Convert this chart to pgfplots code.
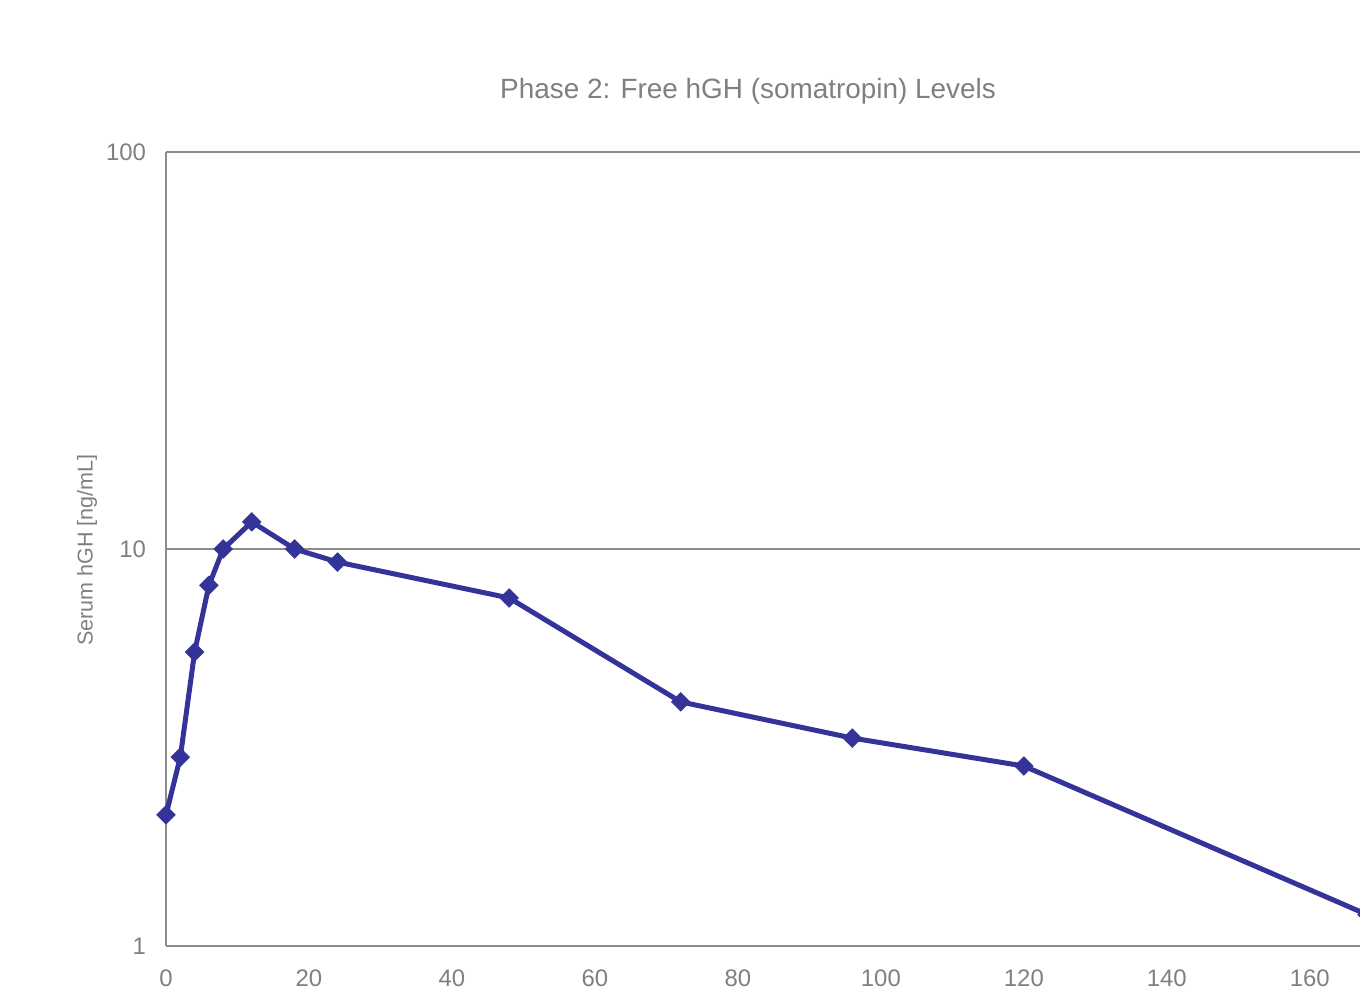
\documentclass[border=0pt]{standalone}
\usepackage{pgfplots}
\pgfplotsset{compat=1.18}
\usepackage{fontspec}
\setmainfont{Liberation Sans}
\definecolor{txtgray}{HTML}{808080}
\definecolor{axgray}{HTML}{8C8C8C}
\definecolor{serblue}{HTML}{333399}
\begin{document}
\begin{tikzpicture}[x=1bp,y=1bp]
\begin{axis}[
  at={(83bp,24.5bp)}, anchor=south west,
  scale only axis, width=600.5bp, height=397bp,
  xmin=0, xmax=168, ymode=log, ymin=1, ymax=100,
  axis x line*=bottom, axis y line*=left,
  axis line style={axgray, line width=0.9bp},
  xtick={0,20,...,160}, ytick={1,10,100}, yticklabels={1,10,100},
  yminorticks=false, major tick length=0pt, minor tick length=0pt,
  ymajorgrids, grid style={axgray, line width=0.9bp},
  tick label style={font=\fontsize{12}{14}\selectfont, text=txtgray},
  /pgf/number format/assume math mode=true,
  xticklabel style={yshift=-8.5bp},
  yticklabel style={xshift=-6.5bp},
  clip=false,
]
\addplot[serblue, line width=2.5bp, mark=square*, mark size=3.3bp, mark options={fill=serblue, rotate=45, line width=0.3bp}]
coordinates {
(0,2.14) (2,2.99) (4,5.5) (6,8.1) (8,10.0) (12,11.7) (18,10.0) (24,9.27)
(48,7.53) (72,4.12) (96,3.34) (120,2.84) (168,1.20)
};
\end{axis}
\node[text=txtgray, font=\fontsize{14}{16}\selectfont] at (374bp,452bp) {Phase 2: Free hGH (somatropin) Levels};
\node[text=txtgray, font=\fontsize{10.8}{12}\selectfont, rotate=90] at (43.5bp,222.5bp) {Serum hGH [ng/mL]};
\pgfresetboundingbox
\path[use as bounding box] (0,0) rectangle (680bp,497.5bp);
\end{tikzpicture}
\end{document}
